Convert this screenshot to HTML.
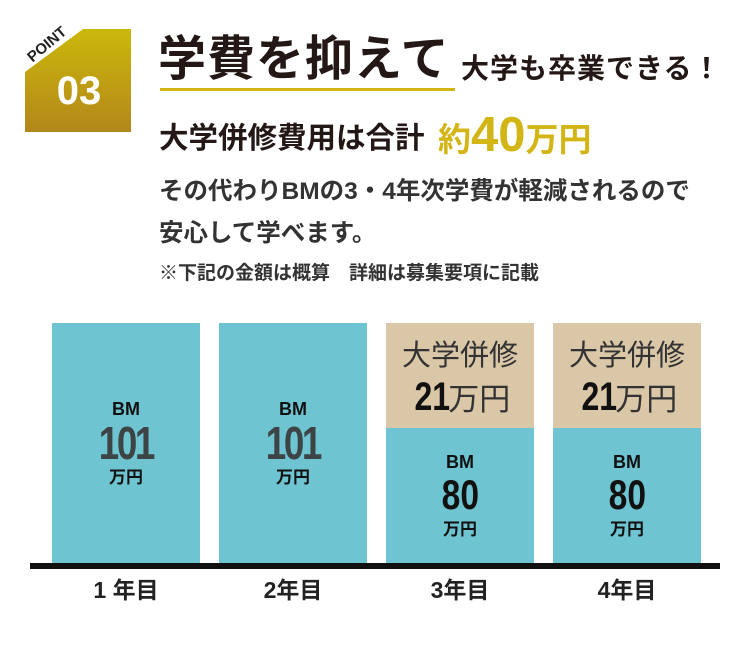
<!DOCTYPE html>
<html><head><meta charset="utf-8"><style>
body{margin:0;width:752px;height:658px;background:#fff;position:relative;overflow:hidden;font-family:"Liberation Sans","Noto Sans CJK JP",sans-serif;color:#231815}
.a{position:absolute;white-space:nowrap;line-height:1}
.bar{position:absolute;background:#6ec4d0;top:323px;height:243px;width:148px}
.beige{position:absolute;background:#dac7a7;top:323px;height:105px;width:148px}
.c{position:absolute;width:148px;text-align:center;line-height:1;font-weight:bold;color:#111}
.n{font-family:"Liberation Sans Narrow","Liberation Sans",sans-serif;display:inline-block;transform:scaleX(0.8)}
</style></head><body>
<svg class="a" style="left:0;top:0" width="140" height="140">
<defs><linearGradient id="g" x1="0" y1="0" x2="0" y2="1"><stop offset="0" stop-color="#cbb80b"/><stop offset="1" stop-color="#b3871a"/></linearGradient></defs>
<polygon points="83,29 131,29 131,132 25,132 25,72" fill="url(#g)"/>
<text x="50" y="48" transform="rotate(-40 50 48)" font-family="Liberation Sans" font-weight="bold" font-size="15" fill="#222" text-anchor="middle">POINT</text>
<text x="79" y="104" font-family="Liberation Sans" font-weight="bold" font-size="40" fill="#fff" text-anchor="middle">03</text>
</svg>
<div class="a" style="left:158px;top:36px;font-size:48px;font-weight:bold;letter-spacing:1px">学費を抑えて</div>
<div style="position:absolute;left:160px;top:88px;width:295px;height:3px;background:#d4b516"></div>
<div class="a" style="left:461px;top:55px;font-size:28px;font-weight:bold;letter-spacing:1px">大学も卒業できる！</div>
<div class="a" style="left:159px;top:124px;font-size:29.5px;font-weight:bold">大学併修費用は合計</div>
<div class="a" style="left:438px;top:111px;font-weight:bold;color:#d4b516"><span style="font-size:33px">約</span><span style="font-size:49px">40</span><span style="font-size:33px">万円</span></div>
<div class="a" style="left:159px;top:180px;font-size:24.5px;font-weight:bold;color:#333">その代わりBMの3・4年次学費が軽減されるので</div>
<div class="a" style="left:159px;top:222px;font-size:24.5px;font-weight:bold;color:#333">安心して学べます。</div>
<div class="a" style="left:159px;top:264px;font-size:19px;font-weight:bold;color:#333">※下記の金額は概算　詳細は募集要項に記載</div>

<div class="bar" style="left:52px"></div>
<div class="bar" style="left:219px"></div>
<div class="bar" style="left:386px"></div>
<div class="bar" style="left:553px"></div>
<div class="beige" style="left:386px"></div>
<div class="beige" style="left:553px"></div>
<div style="position:absolute;left:30px;top:563px;width:690px;height:6px;background:#111"></div>

<div class="c" style="left:52px;top:400px;font-size:18px">BM</div>
<div class="c" style="left:52px;top:420px;font-size:46px;color:#3d4446;letter-spacing:-3px"><span class="n">101</span></div>
<div class="c" style="left:52px;top:469px;font-size:17px">万円</div>
<div class="c" style="left:219px;top:400px;font-size:18px">BM</div>
<div class="c" style="left:219px;top:420px;font-size:46px;color:#3d4446;letter-spacing:-3px"><span class="n">101</span></div>
<div class="c" style="left:219px;top:469px;font-size:17px">万円</div>

<div class="c" style="left:386px;top:342px;font-size:29px;font-weight:normal;color:#333">大学併修</div>
<div class="c" style="left:386px;top:377px;font-size:31px;font-weight:normal;color:#333"><span class="n" style="font-size:40px;font-weight:bold;color:#111;margin-right:-6px">21</span>万円</div>
<div class="c" style="left:553px;top:342px;font-size:29px;font-weight:normal;color:#333">大学併修</div>
<div class="c" style="left:553px;top:377px;font-size:31px;font-weight:normal;color:#333"><span class="n" style="font-size:40px;font-weight:bold;color:#111;margin-right:-6px">21</span>万円</div>

<div class="c" style="left:386px;top:453px;font-size:18px">BM</div>
<div class="c" style="left:386px;top:474px;font-size:42px"><span class="n">80</span></div>
<div class="c" style="left:386px;top:521px;font-size:17px">万円</div>
<div class="c" style="left:553px;top:453px;font-size:18px">BM</div>
<div class="c" style="left:553px;top:474px;font-size:42px"><span class="n">80</span></div>
<div class="c" style="left:553px;top:521px;font-size:17px">万円</div>

<div class="c" style="left:52px;top:579px;font-size:23px;color:#222">1 年目</div>
<div class="c" style="left:219px;top:579px;font-size:23px;color:#222">2年目</div>
<div class="c" style="left:386px;top:579px;font-size:23px;color:#222">3年目</div>
<div class="c" style="left:553px;top:579px;font-size:23px;color:#222">4年目</div>
</body></html>
